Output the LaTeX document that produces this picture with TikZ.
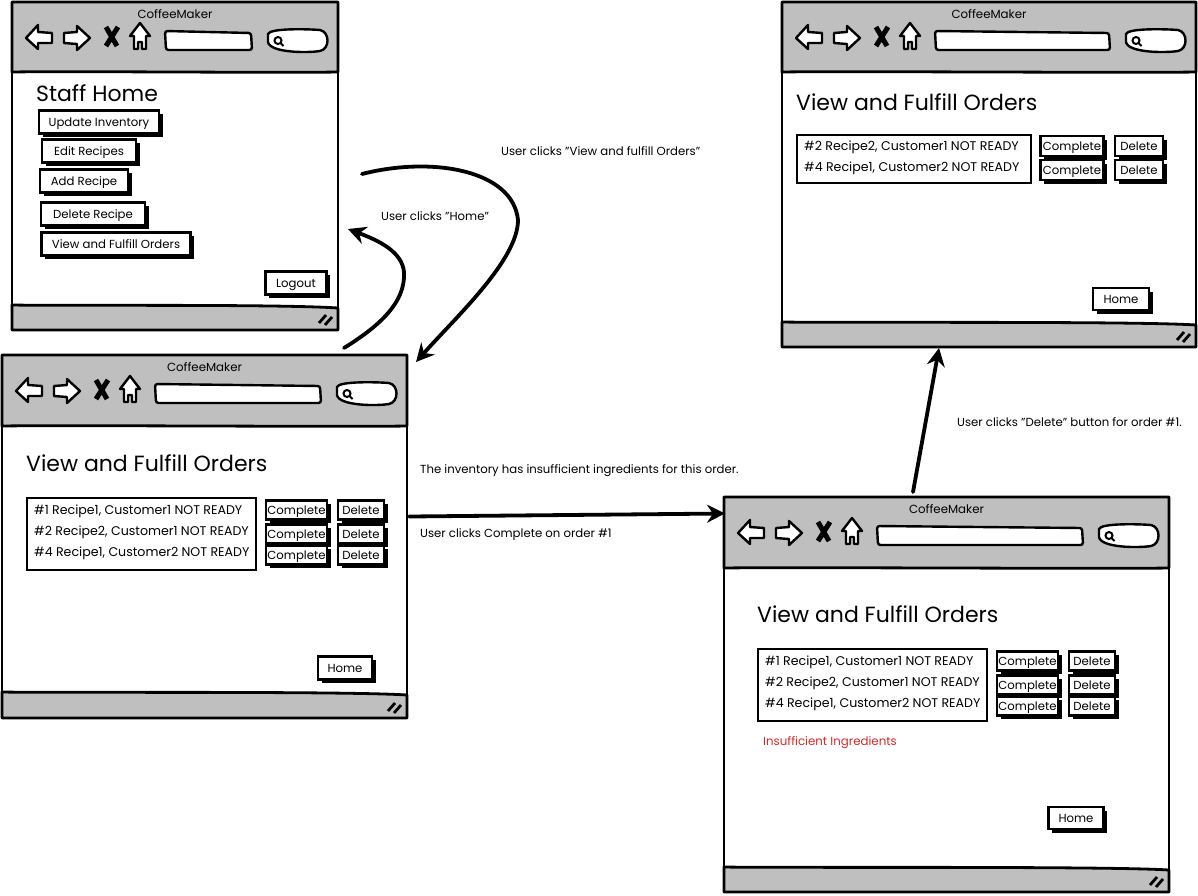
\documentclass[tikz,border=0pt]{standalone}
\usepackage{fontspec}
\setmainfont{Poppins}
\usetikzlibrary{arrows.meta,shadows}

% Browser window: name, left, top, right, bottom, toolbar bottom, status top, title
\newcommand{\browserwin}[8]{
    \node[winframe, minimum width={(#4-#2)*1pt}, minimum height={(#5-#3)*1pt}] (#1) at ({(#2+#4)/2},{(#3+#5)/2}) {};
    \draw[bar] (#2,#3) -- (#4,#3) -- (#4,#6) .. controls ({#4-60},{#6+1}) and ({#2+60},{#6-1}) .. (#2,#6) -- cycle;
    \draw[bar] (#2,#7) .. controls ({#2+60},{#7+1}) and ({#4-60},{#7-1}) .. (#4,{#7+3}) -- (#4,#5) -- (#2,#5) -- cycle;
    \node[apptitle] (#1title) at ({(#2+#4)/2},{#3+12}) {#8};
    \begin{scope}[shift={(#2,#3)}]
        % Back, forward, stop, home
        \draw[toolicon] (14,36) -- (26,23) -- (26,30) -- (40,31) -- (40,41) -- (26,41) -- (26,47) -- cycle;
        \draw[toolicon] (78,36) -- (65,24) -- (65,30) -- (52,31) -- (52,41) -- (65,42) -- (65,48) -- cycle;
        \draw[line width=5pt] (94,25) -- (105,44) (106,25) -- (94,44);
        \draw[toolicon] (128,21) -- (138,34) -- (134,34) -- (134,47) -- (130,47) -- (130,40) -- (126,40) -- (126,47) -- (122,47) -- (122,34) -- (118,34) -- cycle;
    \end{scope}
    % Address bar and search box
    \draw[fieldbox] ({#2+153},{#3+29}) -- ({#4-87},{#3+31}) -- ({#4-86},{#3+48}) -- ({#2+154},{#3+48}) -- cycle;
    \begin{scope}[shift={(#4,#3)}]
        \draw[searchbox] (-70,32) .. controls (-68,26) and (-30,27) .. (-18,28) .. controls (-8,30) and (-8,47) .. (-18,49) .. controls (-30,51) and (-68,51) .. (-70,40) -- cycle;
        \draw[line width=2pt] (-60,38.5) circle (3.5pt) (-57.5,41) -- (-54.5,44);
    \end{scope}
    % Resize grip
    \draw[line width=2.8pt] ({#4-19},{#5-7}) -- ({#4-12},{#5-15}) ({#4-13},{#5-5}) -- ({#4-6},{#5-13});
}

\begin{document}
\begin{tikzpicture}[
    x=1pt, y=-1pt,
    winframe/.style={draw, fill=white, line width=2.8pt, outer sep=0pt, inner sep=0pt},
    bar/.style={draw, fill=black!25, line width=2.8pt, line join=round},
    toolicon/.style={draw, fill=white, line width=2.4pt, line join=round},
    fieldbox/.style={draw, fill=white, line width=2.4pt, rounded corners=2.5pt},
    searchbox/.style={draw, fill=white, line width=2.4pt},
    apptitle/.style={font=\fontsize{11.8}{13}\selectfont, inner sep=0pt},
    heading/.style={font=\fontsize{22}{25}\selectfont, anchor=west, inner sep=0pt},
    btn/.style={draw, fill=white, line width=2.2pt, inner sep=0pt, outer sep=0pt, text height=9pt, text depth=1pt, font=\fontsize{11.7}{13}\selectfont,
        drop shadow={shadow xshift=3.5pt, shadow yshift=-3.5pt, fill=black, opacity=1}},
    listbox/.style={draw, fill=white, line width=2.2pt, inner sep=0pt, outer sep=0pt},
    listrow/.style={font=\fontsize{12.6}{14}\selectfont, anchor=west, inner sep=0pt, yshift=-1pt},
    note/.style={font=\fontsize{11.7}{13}\selectfont, anchor=west, inner sep=0pt, yshift=-1pt},
    flow/.style={line width=3.8pt, line cap=round, -{Stealth[length=18pt,width=18pt,inset=6pt]}}
]
\useasboundingbox (0,0) rectangle (1198,895);

% Staff home
\browserwin{staff}{12}{2}{338}{330}{72}{305}{CoffeeMaker}
\node[heading] (staffhead) at (36,93) {Staff Home};
\node[btn, minimum width=120pt, minimum height=23pt] (staffinv) at (99,122) {Update Inventory};
\node[btn, minimum width=94pt, minimum height=23pt] (staffedit) at (89,151) {Edit Recipes};
\node[btn, minimum width=88pt, minimum height=23pt] (staffadd) at (84,181) {Add Recipe};
\node[btn, minimum width=104pt, minimum height=23pt] (staffdel) at (93,214) {Delete Recipe};
\node[btn, minimum width=149pt, minimum height=23pt] (staffview) at (116,244) {View and Fulfill Orders};
\node[btn, minimum width=61pt, minimum height=23pt] (stafflogout) at (296,283) {Logout};

% Orders, all three
\browserwin{orders}{2}{355}{407}{718}{426}{692}{CoffeeMaker}
\node[heading] (ordershead) at (26,463) {View and Fulfill Orders};
\node[listbox, minimum width=229pt, minimum height=72pt] (orderslist) at (141.5,534) {};
\node[listrow] (ordersa) at (34,510) {\#1 Recipe1, Customer1 NOT READY};
\node[listrow] (ordersb) at (34,531) {\#2 Recipe2, Customer1 NOT READY};
\node[listrow] (ordersc) at (34,552) {\#4 Recipe1, Customer2 NOT READY};
\node[btn, minimum width=61pt, minimum height=19pt] (orderscompa) at (296.5,510) {Complete};
\node[btn, minimum width=61pt, minimum height=19pt] (orderscompb) at (296.5,534) {Complete};
\node[btn, minimum width=61pt, minimum height=19pt] (orderscompc) at (296.5,555) {Complete};
\node[btn, minimum width=46pt, minimum height=19pt] (ordersdela) at (361,510) {Delete};
\node[btn, minimum width=46pt, minimum height=19pt] (ordersdelb) at (361,534) {Delete};
\node[btn, minimum width=46pt, minimum height=19pt] (ordersdelc) at (361,555) {Delete};
\node[btn, minimum width=54pt, minimum height=23pt] (ordershome) at (345,668) {Home};

% Orders after the delete
\browserwin{deleted}{782}{2}{1196}{347}{72}{322}{CoffeeMaker}
\node[heading] (deletedhead) at (796,102) {View and Fulfill Orders};
\node[listbox, minimum width=234pt, minimum height=48pt] (deletedlist) at (914,159) {};
\node[listrow] (deleteda) at (804,146) {\#2 Recipe2, Customer1 NOT READY};
\node[listrow] (deletedb) at (804,167) {\#4 Recipe1, Customer2 NOT READY};
\node[btn, minimum width=63pt, minimum height=20pt] (deletedcompa) at (1072,146) {Complete};
\node[btn, minimum width=63pt, minimum height=20pt] (deletedcompb) at (1072,170) {Complete};
\node[btn, minimum width=48pt, minimum height=20pt] (deleteddela) at (1139,146) {Delete};
\node[btn, minimum width=48pt, minimum height=20pt] (deleteddelb) at (1139,170) {Delete};
\node[btn, minimum width=56pt, minimum height=22pt] (deletedhome) at (1121,299) {Home};

% Orders with the error
\browserwin{failed}{724}{497}{1169}{892}{568}{867}{CoffeeMaker}
\node[heading] (failedhead) at (757,614) {View and Fulfill Orders};
\node[listbox, minimum width=229pt, minimum height=72pt] (failedlist) at (872.5,685) {};
\node[listrow] (faileda) at (765,661) {\#1 Recipe1, Customer1 NOT READY};
\node[listrow] (failedb) at (765,682) {\#2 Recipe2, Customer1 NOT READY};
\node[listrow] (failedc) at (765,703) {\#4 Recipe1, Customer2 NOT READY};
\node[btn, minimum width=61pt, minimum height=19pt] (failedcompa) at (1027.5,661) {Complete};
\node[btn, minimum width=61pt, minimum height=19pt] (failedcompb) at (1027.5,685) {Complete};
\node[btn, minimum width=61pt, minimum height=19pt] (failedcompc) at (1027.5,706) {Complete};
\node[btn, minimum width=46pt, minimum height=19pt] (faileddela) at (1092,661) {Delete};
\node[btn, minimum width=46pt, minimum height=19pt] (faileddelb) at (1092,685) {Delete};
\node[btn, minimum width=46pt, minimum height=19pt] (faileddelc) at (1092,706) {Delete};
\node[listrow, font=\fontsize{11.8}{14}\selectfont, text={rgb,255:red,212;green,42;blue,42}] (failedmsg) at (763,742) {Insufficient Ingredients};
\node[btn, minimum width=55pt, minimum height=22pt] (failedhome) at (1076,818) {Home};

% Transitions
\draw[flow] ([shift={(24,8)}]staff.east) .. controls +(70,-18) and +(-5,-50) .. ([shift={(180,54)}]staff.east) .. controls +(0,40) and +(40,-45) .. ([shift={(9,7)}]orders.north east);
\draw[flow] ([shift={(-63,-7)}]orders.north east) .. controls +(32,-20) and +(2,32) .. ([shift={(66,106)}]staff.east) .. controls +(-2,-20) and +(32,12) .. ([shift={(10,63)}]staff.east);
\draw[flow] ([shift={(2,-20)}]orders.east) -- ([shift={(1,-181)}]failed.west);
\draw[flow] ([shift={(-33.5,-5)}]failed.north) -- ([shift={(-50,1)}]deleted.south);

\node[note] (noteview) at (501,150) {User clicks "View and fulfill Orders"};
\node[note] (notehome) at (381,215) {User clicks "Home"};
\node[note] (noteshort) at (420,470) {The inventory has insufficient ingredients for this order.};
\node[note] (notecomplete) at (420,534) {User clicks Complete on order \#1};
\node[note] (notedelete) at (957,421) {User clicks "Delete" button for order \#1.};
\end{tikzpicture}
\end{document}
